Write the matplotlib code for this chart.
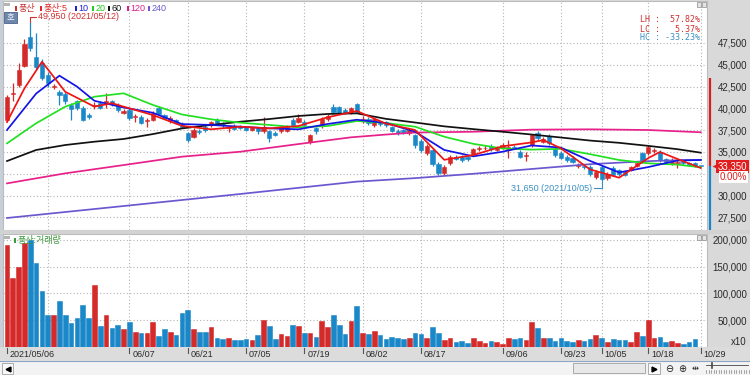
import numpy as np
import matplotlib.pyplot as plt
import matplotlib.transforms as mtransforms
from matplotlib.patches import Rectangle

plt.rcParams['font.family'] = ['Liberation Sans', 'Noto Sans CJK KR', 'DejaVu Sans']

# daily candles, 2021/05/06 .. 2021/10/29 (120 trading days)
opens = [38650, 41700, 42700, 44900, 48200, 45900, 45200, 43800, 42400, 41900,
         41650, 40400, 40800, 40050, 39250, 40250, 40650, 40500, 40850, 40400,
         39500, 39800, 39000, 39050, 38600, 38700, 40050, 39250, 38500, 38650,
         38200, 37200, 36750, 37400, 37900, 38100, 38650, 38150, 37700, 38000,
         37950, 37850, 37550, 37750, 37350, 37350, 37200, 37350, 37400, 38650,
         38450, 38450, 36200, 37750, 38000, 38800, 40200, 40200, 39800, 39450,
         40500, 38500, 38800, 38100, 38350, 38450, 37900, 37450, 37500, 37200,
         36950, 36300, 34850, 35250, 33600, 32600, 33700, 34450, 34400, 34400,
         34750, 35300, 35400, 35700, 35250, 35450, 35250, 35600, 35050, 34500,
         35800, 37200, 36200, 36850, 35300, 34900, 34400, 34300, 33400, 33400,
         33300, 32100, 33300, 32000, 33200, 32900, 32700, 32900, 33400, 34900,
         34850, 35150, 35050, 34200, 33600, 33750, 33950, 33750, 33700, 33350]
highs = [41500, 42900, 45200, 48000, 49950, 48700, 45700, 44200, 42800, 42100,
         41900, 40600, 41000, 40300, 39500, 40700, 40900, 41800, 41000, 40600,
         39900, 40000, 39400, 39200, 38900, 39700, 40300, 39400, 39100, 38800,
         38400, 37300, 37700, 37600, 38100, 38600, 38900, 38400, 38000, 38200,
         38100, 38000, 37900, 37900, 39050, 37500, 37400, 38100, 38100, 38900,
         39300, 38700, 37100, 37900, 39000, 39300, 40500, 40300, 40000, 40200,
         40650, 39100, 39000, 38900, 38500, 38600, 38000, 37600, 37600, 37700,
         37100, 36500, 35900, 35400, 33800, 33500, 34600, 34600, 34600, 34600,
         35500, 35700, 35800, 35900, 35700, 36000, 36400, 35800, 35200, 35000,
         37100, 37400, 36700, 37100, 35600, 35100, 34600, 34500, 33700, 33600,
         33500, 32900, 33500, 32700, 33400, 33000, 32900, 33400, 34000, 35000,
         35800, 35500, 35200, 34300, 34300, 34100, 34100, 33900, 33900, 33350]
lows = [38450, 40800, 42500, 44700, 46600, 44500, 43200, 42500, 42200, 40400,
        40500, 38700, 39800, 38500, 38800, 39900, 39900, 40100, 40300, 39600,
        39300, 38700, 38450, 38200, 37900, 38500, 39200, 38800, 38300, 38200,
        37700, 36100, 36600, 37100, 37300, 37900, 38100, 37800, 37300, 37500,
        37600, 37400, 37400, 37100, 37200, 36200, 36800, 37200, 37300, 37900,
        38300, 38000, 35900, 37100, 37800, 38600, 39500, 39300, 39300, 39300,
        39500, 38300, 38100, 37900, 38000, 37900, 37300, 37000, 37100, 37000,
        35500, 35000, 34600, 33400, 32400, 32400, 33500, 34100, 33900, 34000,
        34600, 35100, 35200, 35100, 35100, 35300, 34300, 35300, 34300, 34000,
        35600, 36400, 36000, 35800, 34400, 34200, 33900, 33700, 33200, 33100,
        32300, 31900, 31650, 31800, 32200, 32300, 32200, 32800, 33300, 33700,
        34700, 34900, 33900, 33700, 33500, 33200, 33500, 33400, 33300, 33350]
closes = [41300, 41800, 44400, 47400, 46900, 44700, 43500, 42900, 42600, 41500,
          40800, 39900, 40050, 38700, 39000, 40300, 40050, 40800, 40500, 39800,
          39750, 38900, 39100, 38350, 38700, 39450, 39350, 38900, 38900, 38300,
          37850, 36350, 37500, 37300, 37500, 38450, 38300, 38050, 37800, 37600,
          37750, 37550, 37750, 37350, 37900, 36550, 37000, 37900, 37850, 38100,
          38850, 38100, 36950, 37350, 38800, 39150, 39600, 39450, 39450, 40050,
          39600, 38800, 38350, 38800, 38200, 38100, 37450, 37150, 37300, 37500,
          35800, 35250, 35700, 33600, 32600, 33300, 34450, 34250, 34100, 34200,
          35350, 35450, 35500, 35300, 35450, 35800, 35550, 35500, 34450, 34650,
          36950, 36550, 36500, 36000, 34600, 34300, 34050, 33800, 33500, 33300,
          32500, 32700, 31900, 32500, 32400, 32500, 32400, 33300, 33700, 33900,
          35600, 35250, 34100, 33850, 33800, 33900, 33700, 33500, 33350, 33350]
volumes = [190000, 129000, 150000, 194000, 200000, 156000, 104000, 59000, 59000, 86000,
           59000, 45000, 53000, 78000, 54000, 115000, 39000, 59000, 35000, 41000,
           33000, 46000, 28000, 25000, 25000, 46000, 20000, 33000, 27000, 22000,
           63000, 69000, 33000, 27000, 27000, 36000, 17000, 14000, 16000, 12000,
           12000, 14000, 13000, 22000, 50000, 39000, 14000, 24000, 20000, 41000,
           39000, 26000, 26000, 17500, 48000, 36000, 59000, 41000, 24000, 49000,
           76000, 25000, 24000, 29000, 22000, 14000, 18000, 17000, 14000, 16000,
           25000, 24000, 16000, 37000, 25000, 12500, 16000, 9400, 10000, 7500,
           16000, 10000, 7500, 10000, 8700, 5100, 15700, 14400, 16900, 12000,
           45700, 34500, 15700, 15700, 11300, 15700, 11300, 9400, 12000, 10700,
           14400, 21900, 15700, 8100, 13800, 13200, 12000, 9400, 27000, 20000,
           50000, 15700, 18700, 8100, 10700, 7500, 5600, 8100, 14400, 300]

# moving averages (index, price)
ma5_idx = [0, 3, 6, 10, 15, 18, 20, 25, 30, 35, 40, 45, 50, 55, 60, 65, 70, 75,
           80, 85, 90, 92, 95, 100, 105, 110, 112, 115, 119]
ma5 = [38440, 42300, 45350, 41900, 40200, 40600, 40200, 39240, 38000, 37600, 37900,
       37710, 37980, 38980, 39700, 38250, 37520, 34100, 34650, 35650, 36100, 36370,
       35420, 33000, 32050, 34300, 35000, 34200, 33160]
ma10_idx = [0, 5, 9, 12, 15, 20, 25, 30, 35, 40, 45, 50, 55, 60, 65, 70, 75, 80,
            85, 90, 95, 100, 105, 110, 115, 119]
ma10 = [37520, 41700, 43750, 42500, 40870, 40100, 39500, 38200, 38100, 37900, 37710,
        37600, 38210, 38700, 38320, 37330, 35230, 34500, 35030, 35750, 35500, 33980,
        32650, 33270, 34020, 34080]
ma20_idx = [0, 5, 10, 15, 20, 25, 30, 35, 40, 45, 50, 55, 60, 65, 70, 75, 80, 85,
            90, 95, 100, 105, 110, 115, 119]
ma20 = [35990, 38290, 40200, 41340, 41730, 40400, 39300, 38750, 38360, 38100, 37830,
        37980, 38550, 38320, 37900, 36750, 35930, 35400, 35270, 35360, 34750, 34080,
        33700, 33550, 33240]
ma60_idx = ma20_idx
ma60 = [33960, 35230, 35800, 36180, 36490, 37050, 37700, 38100, 38470, 38780, 39130,
        39360, 39430, 38800, 38380, 37940, 37620, 37320, 37000, 36660, 36310, 36050,
        35700, 35320, 34920]
ma120_idx = [0, 10, 20, 30, 40, 50, 59, 65, 70, 80, 90, 100, 110, 119]
ma120 = [31400, 32550, 33500, 34460, 35030, 35910, 36680, 37000, 37230, 37320, 37560,
         37600, 37520, 37260]
ma240_idx = [0, 20, 40, 60, 70, 80, 90, 100, 110, 115, 119]
ma240 = [27430, 28800, 30180, 31600, 32000, 32500, 33050, 33600, 33950, 34050, 34100]

label_idx = [0, 21, 31, 41, 51, 61, 71, 85, 95, 102, 110, 119]
date_labels = ['2021/05/06', '06/07', '06/21', '07/05', '07/19', '08/02', '08/17',
               '09/06', '09/23', '10/05', '10/18', '10/29']
grid_idx = [7] + label_idx[1:]
price_ticks = [27500, 30000, 32500, 35000, 37500, 40000, 42500, 45000, 47500]
vol_ticks = [50000, 100000, 150000, 200000]
band_top = 43500

UP, DN = '#d42a2a', '#1a87c9'
W, H = 750, 375


def frac(x0, y0, x1, y1):
    return [x0 / W, 1 - y1 / H, (x1 - x0) / W, (y1 - y0) / H]


fig = plt.figure(figsize=(7.5, 3.75), dpi=100)
fig.patch.set_facecolor('white')

bg = fig.add_axes([0, 0, 1, 1], zorder=-1)
bg.set_xlim(0, W)
bg.set_ylim(H, 0)
bg.axis('off')
bg.add_patch(Rectangle((0, 0), W, 361, fc='#d9d9d9', ec='none'))
bg.add_patch(Rectangle((0, 0), 3, 361, fc='#c7cfd9', ec='none'))
bg.add_patch(Rectangle((0, 361), W, 14, fc='#f3f3f3', ec='none'))
bg.plot([0, W], [361, 361], color='#8ca6c6', lw=0.8)

ax_p = fig.add_axes(frac(3, 1, 707, 230))
ax_v = fig.add_axes(frac(3, 234, 707, 347))

idx = np.arange(len(closes))
o = np.array(opens)
c = np.array(closes)
up = c > o
cols = np.where(up, UP, DN)
body_lo = np.minimum(o, c)
body_h = np.maximum(np.abs(c - o), 110)

grid_kw = dict(color='#b4b4b4', linestyle=(0, (1, 2)), linewidth=0.8)
for ax in (ax_p, ax_v):
    ax.set_facecolor('white')
    ax.set_xlim(-0.686, 120.07)
    for s in ax.spines.values():
        s.set_color('#bcbcbc')
        s.set_linewidth(0.8)
    ax.set_xticks(grid_idx)
    ax.tick_params(axis='x', length=0, labelbottom=False)
    ax.yaxis.tick_right()
    ax.tick_params(axis='y', length=0, pad=28.8, labelsize=7, labelcolor='#2a2a2a')
    ax.grid(True, **grid_kw)
    ax.set_axisbelow(True)

# price panel (the 32,500 label sits under the current-price box)
last = closes[-1]
ax_p.set_ylim(26051, 52317)
ax_p.set_yticks(price_ticks,
                labels=['' if abs(t - last) < 1500 else f'{t:,}' for t in price_ticks],
                ha='right')
ax_p.vlines(idx, lows, highs, colors=cols, lw=0.9, zorder=2)
ax_p.bar(idx, body_h, bottom=body_lo, width=0.72, color=cols, edgecolor=cols,
         lw=0.4, zorder=3)
for xi, yv, col in [(ma240_idx, ma240, '#6a58d0'), (ma120_idx, ma120, '#e8208a'),
                    (ma60_idx, ma60, '#111111'), (ma20_idx, ma20, '#22e022'),
                    (ma10_idx, ma10, '#1414e6'), (ma5_idx, ma5, '#ee1414')]:
    ax_p.plot(xi, yv, color=col, lw=1.25, zorder=4, solid_joinstyle='round')

hi_i = int(np.argmax(highs))
lo_i = int(np.argmin(lows))
ax_p.annotate(f'{highs[hi_i]:,} (2021/05/12)', xy=(hi_i, highs[hi_i]), xytext=(8, 5),
              textcoords='offset pixels', ha='left', va='center', fontsize=6.5,
              color='#d03030', zorder=6,
              arrowprops=dict(arrowstyle='-', color='#d03030', lw=0.8, shrinkA=0, shrinkB=0,
                              relpos=(0, 0.5),
                              connectionstyle='angle,angleA=0,angleB=90,rad=0'))
ax_p.annotate(f'{lows[lo_i]:,} (2021/10/05)', xy=(lo_i, lows[lo_i]), xytext=(-10, -7),
              textcoords='offset pixels', ha='right', va='center', fontsize=6.5,
              color='#3a8fc0', zorder=6,
              arrowprops=dict(arrowstyle='-', color='#3a8fc0', lw=0.8, shrinkA=0, shrinkB=0,
                              relpos=(1, 0.5),
                              connectionstyle='angle,angleA=0,angleB=90,rad=0'))

# volume panel
ax_v.set_ylim(-562, 211060)
ax_v.set_yticks(vol_ticks, labels=[f'{t:,}' for t in vol_ticks], ha='right')
ax_v.bar(idx, volumes, width=0.8, color=cols, edgecolor=cols, lw=0.4, zorder=3)

# overlay for texts and widgets
top = fig.add_axes([0, 0, 1, 1], zorder=10)
top.set_xlim(0, W)
top.set_ylim(H, 0)
top.axis('off')
top.patch.set_alpha(0)

# date strip
top.add_patch(Rectangle((0, 347), W, 13.5, fc='#dcdcdc', ec='none'))
top.add_patch(Rectangle((0, 230), W, 4, fc='#d2d2d2', ec='none'))
trans_d = mtransforms.blended_transform_factory(ax_v.transData, top.transData)
trans_dt = mtransforms.offset_copy(trans_d, fig=fig, x=3, y=0, units='dots')
for i, lbl in zip(label_idx, date_labels):
    top.plot([i, i], [348, 353], transform=trans_d, color='#555555', lw=0.8)
    top.text(i, 354.5, lbl, transform=trans_dt, ha='left', va='center', fontsize=6.5,
             color='#2a2a2a')

# current price marker on the right scale
trans_pp = mtransforms.blended_transform_factory(top.transData, ax_p.transData)
ax_bottom = ax_p.get_ylim()[0]
top.plot([710, 710], [band_top, last], transform=trans_pp, color='#d42020', lw=1.6,
         solid_capstyle='butt')
top.plot([710, 710], [last, ax_bottom], transform=trans_pp, color='#1a87c9', lw=1.6,
         solid_capstyle='butt')
top.plot([714.5], [last], transform=trans_pp, marker='<', ms=4.5, color='#d42020', mec='none')
top.text(747, last, f'{last:,}', transform=trans_pp, ha='right', va='center', fontsize=7,
         color='white', bbox=dict(boxstyle='square,pad=0.18', fc='#e01e1e', ec='none'))
chg = (closes[-1] / closes[-2] - 1) * 100
trans_pc = mtransforms.offset_copy(trans_pp, fig=fig, x=0, y=-10.5, units='dots')
top.text(747, last, f'{chg:.2f}%', transform=trans_pc, ha='right', va='center', fontsize=7,
         color='#e01e1e', bbox=dict(boxstyle='square,pad=0.1', fc='white', ec='none'))
top.text(747, 342, 'x10', ha='right', va='center', fontsize=7, color='#2a2a2a')

# legend of the price panel
top.add_patch(Rectangle((4, 3), 6, 3, fc='#b4b4b4', ec='none'))
top.add_patch(Rectangle((4, 12), 13, 11, fc='#6d87ad', ec='#4b638a', lw=0.6))
top.text(10.5, 17.5, '호', ha='center', va='center', fontsize=6, color='white')
legend_items = [(15, '풍산', '#c83232'), (40, '풍산:5', '#e02828'), (75, '10', '#1f1fd8'),
                (92, '20', '#22cc22'), (108, '60', '#111111'), (127, '120', '#e0208a'),
                (148, '240', '#6a58d0')]
for lx, txt, col in legend_items:
    top.add_patch(Rectangle((lx, 6), 1.6, 5, fc=col, ec='none'))
    top.text(lx + 3.5, 8.5, txt, ha='left', va='center', fontsize=6.5, color=col)

hi, lo = max(highs), min(lows)
stats = [('LH', hi / lo - 1, '#d03030'), ('LC', last / lo - 1, '#d03030'),
         ('HC', last / hi - 1, '#3a8fc0')]
for k, (name, val, col) in enumerate(stats):
    top.text(700, 20 + 9 * k, f'{name} : {val * 100:6.2f}%', ha='right', va='center',
             fontsize=6, color=col, family='DejaVu Sans Mono')

for y0 in (2, 235):
    for x0 in (697, 702):
        top.add_patch(Rectangle((x0, y0), 4, 4.5, fc='#e4e4e4', ec='#8c8c8c', lw=0.5))

# legend of the volume panel
top.add_patch(Rectangle((4, 236), 6, 3, fc='#b4b4b4', ec='none'))
top.add_patch(Rectangle((14, 238), 1.6, 5, fc='#3c9a3c', ec='none'))
top.text(17.5, 240.5, '풍산:거래량', ha='left', va='center', fontsize=6.5, color='#3c9a3c')

# scroll bar widgets
top.add_patch(Rectangle((2, 363), 11, 11, fc='#fafafa', ec='#a0a0a0', lw=0.6))
top.plot([7.5], [368.5], marker='<', ms=3.5, color='black')
top.add_patch(Rectangle((573, 363), 72, 10, fc='#e8e8e8', ec='#a0a0a0', lw=0.6))
top.add_patch(Rectangle((648, 363), 12, 11, fc='#fafafa', ec='#a0a0a0', lw=0.6))
top.plot([654], [368.5], marker='>', ms=3.5, color='black')
top.text(669, 368.5, '⊖', ha='center', va='center', fontsize=7, color='#222222',
         family='DejaVu Sans')
top.text(682, 368.5, '⊕', ha='center', va='center', fontsize=7, color='#222222',
         family='DejaVu Sans')
top.text(695, 368, '⇹', ha='center', va='center', fontsize=6, color='#222222',
         family='DejaVu Sans')
top.plot([706, 748], [365, 365], color='#444444', lw=0.6)
top.plot([712, 712], [363, 368], color='#444444', lw=1.2)
for tx in np.arange(706, 749, 2.5):
    top.plot([tx, tx], [370, 373], color='#666666', lw=0.4)

fig.savefig('out.png', dpi=100)
